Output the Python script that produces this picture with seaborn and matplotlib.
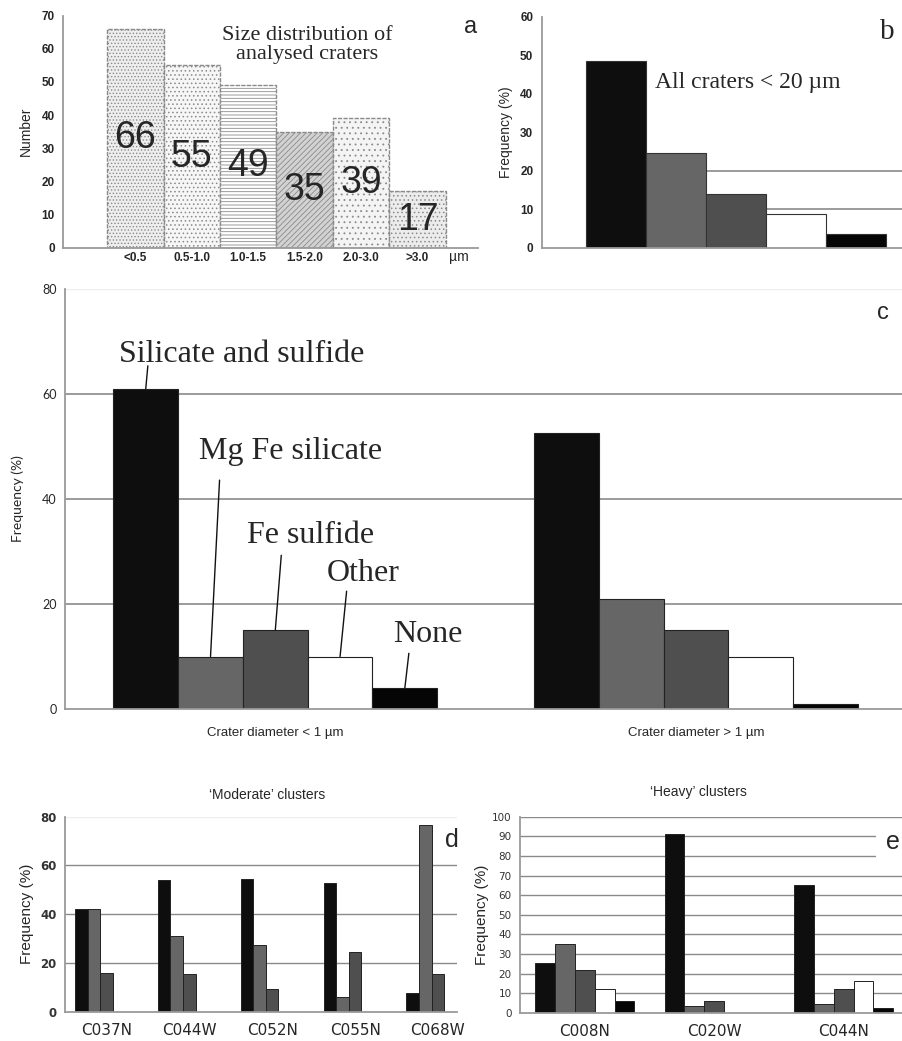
import matplotlib
matplotlib.use('Agg')
import matplotlib.pyplot as plt
import seaborn as sns
import numpy as np
import pandas as pd

# data
size_bins = ['<0.5', '0.5-1.0', '1.0-1.5', '1.5-2.0', '2.0-3.0', '>3.0']
crater_counts = [66, 55, 49, 35, 39, 17]

compositions = ['Silicate and sulfide', 'Mg Fe silicate', 'Fe sulfide', 'Other', 'None']
all_craters_freq = [48.5, 24.5, 14, 8.7, 3.6]

diameter_groups = ['Crater diameter < 1 \u00b5m', 'Crater diameter > 1 \u00b5m']
small_freq = [61, 10, 15, 10, 4]
large_freq = [52.5, 21, 15, 10, 1]

moderate_clusters = ['C037N', 'C044W', 'C052N', 'C055N', 'C068W']
c037n = [42, 42, 16, 0, 0]
c044w = [54, 31, 15.5, 0, 0]
c052n = [54.5, 27.5, 9.5, 0, 0]
c055n = [53, 6, 24.5, 0, 0]
c068w = [7.5, 76.5, 15.5, 0, 0]

heavy_clusters = ['C008N', 'C020W', 'C044N']
c008n = [25.5, 35, 22, 12, 6]
c020w = [91, 3.5, 6, 0, 0]
c044n = [65, 4.5, 12, 16, 2.5]

comp_colors = ['#0e0e0e', '#666666', '#4f4f4f', '#ffffff', '#050505']
size_faces = ['#eeeeee', '#f6f6f6', '#ffffff', '#d2d2d2', '#f4f4f4', '#ececec']
size_hatches = ['.....', '....', '-----', '//////', '...', '....']


def long_table(groups, rows):
    recs = [(g, c, v) for g, r in zip(groups, rows) for c, v in zip(compositions, r)]
    return pd.DataFrame(recs, columns=['group', 'comp', 'freq'])


sns.set_style('white')
plt.rcParams['font.family'] = ['Liberation Sans', 'DejaVu Sans']
plt.rcParams['hatch.color'] = '#b4b4b4'
plt.rcParams['hatch.linewidth'] = 0.6

W, H = 902, 1041
fig = plt.figure(figsize=(W / 100, H / 100), dpi=100)


def px_axes(l, t, r, b):
    return fig.add_axes([l / W, 1 - b / H, (r - l) / W, (b - t) / H])


def style_axes(ax):
    for s in ['top', 'right']:
        ax.spines[s].set_visible(False)
    for s in ['left', 'bottom']:
        ax.spines[s].set_color('#9a9a9a')
        ax.spines[s].set_linewidth(1.3)
    ax.tick_params(axis='y', length=4, width=1, color='#9a9a9a', pad=2)


def hlines(ax, levels, xmin=0, xmax=1, color='#8a8a8a', lw=1.2):
    for v in levels:
        ax.axhline(v, xmin=xmin, xmax=xmax, color=color, lw=lw, zorder=0)


# ---- a: size distribution
ax = px_axes(63, 15.7, 478, 247.7)
sns.barplot(x=size_bins, y=crater_counts, hue=size_bins, palette=size_faces,
            width=1, edgecolor='#8a8a8a', linewidth=1, legend=False, ax=ax)
for p, h in zip(ax.patches, size_hatches):
    p.set_hatch(h)
    p.set_linestyle((0, (3, 1)))
for i, v in enumerate(crater_counts):
    ax.text(i, v / 2, str(v), ha='center', va='center', fontsize=27)
style_axes(ax)
ax.set_xlim(-1.28, 6.07)
ax.set_ylim(0, 70)
ax.set_yticks(range(0, 71, 10))
ax.tick_params(axis='y', labelsize=8.5)
for t in ax.get_yticklabels():
    t.set_fontweight('bold')
ax.tick_params(axis='x', length=0, pad=3, labelsize=8.5)
for t in ax.get_xticklabels():
    t.set_fontweight('bold')
ax.text(5.74, -0.04, '\u00b5m', transform=ax.get_xaxis_transform(),
        ha='center', va='center', fontsize=10)
ax.set_ylabel('Number', fontsize=10)
ax.yaxis.set_label_coords(-0.072, 0.5)
ax.text(0.588, 0.874, 'Size distribution of\nanalysed craters', transform=ax.transAxes,
        ha='center', va='center', fontsize=16, family='Liberation Serif', linespacing=1.05)
ax.text(0.981, 0.951, 'a', transform=ax.transAxes, ha='center', va='center', fontsize=17)

# ---- b: all craters
ax = px_axes(541.7, 16.7, 902, 247.7)
hlines(ax, [20], xmin=0.456)
hlines(ax, [10], xmin=0.625)
sns.barplot(x=compositions, y=all_craters_freq, hue=compositions, palette=comp_colors,
            width=1, edgecolor='#333333', linewidth=0.8, legend=False, ax=ax, zorder=2)
style_axes(ax)
ax.set_xlim(-1.24, 4.77)
ax.set_ylim(0, 60)
ax.set_yticks(range(0, 61, 10))
ax.tick_params(axis='y', labelsize=8.5)
for t in ax.get_yticklabels():
    t.set_fontweight('bold')
ax.set_xticks([])
ax.set_ylabel('Frequency (%)', fontsize=10)
ax.yaxis.set_label_coords(-0.08, 0.5)
ax.text(0.573, 0.713, 'All craters < 20 \u00b5m', transform=ax.transAxes,
        ha='center', va='center', fontsize=17, family='Liberation Serif')
ax.text(0.958, 0.934, 'b', transform=ax.transAxes, ha='center', va='center',
        fontsize=21, family='Liberation Serif')

# ---- c: by crater diameter
ax = px_axes(65, 289, 902, 709)
hlines(ax, [20, 40, 60])
hlines(ax, [80], color='#eeeeee', lw=1)
df_c = long_table(diameter_groups, [small_freq, large_freq])
sns.barplot(data=df_c, x='group', y='freq', hue='comp', order=diameter_groups,
            hue_order=compositions, palette=comp_colors, width=0.77,
            edgecolor='#222222', linewidth=0.8, legend=False, errorbar=None, ax=ax, zorder=2)
style_axes(ax)
ax.set_xlim(-0.5, 1.49)
ax.set_ylim(0, 80)
ax.set_yticks(range(0, 81, 20))
ax.tick_params(axis='y', labelsize=9, length=4)
for t in ax.get_yticklabels():
    t.set_family('Lato')
ax.set_xticks([0.5], minor=True)
ax.tick_params(axis='x', which='minor', length=4, color='#9a9a9a', direction='out')
ax.tick_params(axis='x', which='major', length=0, pad=13, labelsize=9.5)
ax.set_xlabel('')
ax.set_ylabel('Frequency (%)', fontsize=10, family='Lato')
ax.yaxis.set_label_coords(-0.049, 0.5)
ax.text(0.977, 0.943, 'c', transform=ax.transAxes, ha='center', va='center', fontsize=17)

bars = sorted([p for p in ax.patches if p.get_width() > 0], key=lambda p: p.get_x())[:5]
label_pos = [(-0.081, 67.5), (0.036, 49.0), (0.083, 33.1), (0.21, 25.9), (0.362, 14.1)]
line_off = [(1.5, 16.5), (6.5, 127), (4.3, 54), (4.7, 47), (2.9, 25)]
for p, name, (tx, ty), off in zip(bars, compositions, label_pos, line_off):
    top = (p.get_x() + p.get_width() / 2, p.get_height())
    ax.annotate('', xy=top, xytext=off, textcoords='offset points',
                arrowprops=dict(arrowstyle='-', color='#111111', lw=1,
                                shrinkA=0, shrinkB=0))
    ax.text(tx, ty, name, ha='center', va='center', fontsize=23, family='Liberation Serif')

# ---- d: moderate clusters
ax = px_axes(65, 816.7, 457, 1011.7)
hlines(ax, [20, 40, 60], lw=1)
hlines(ax, [80], color='#eeeeee', lw=1)
df_d = long_table(moderate_clusters, [c037n, c044w, c052n, c055n, c068w])
sns.barplot(data=df_d, x='group', y='freq', hue='comp', order=moderate_clusters,
            hue_order=compositions, palette=comp_colors, width=0.76,
            edgecolor='#222222', linewidth=0.7, legend=False, errorbar=None, ax=ax, zorder=2)
style_axes(ax)
ax.set_xlim(-0.5, 4.23)
ax.set_ylim(0, 80)
ax.set_yticks(range(0, 81, 20))
ax.tick_params(axis='y', labelsize=8.5, labelcolor='#333333')
for t in ax.get_yticklabels():
    t.set_family('DejaVu Sans')
    t.set_fontweight('bold')
ax.set_xticks(np.arange(0.5, 4, 1), minor=True)
ax.tick_params(axis='x', which='minor', length=3, color='#9a9a9a')
ax.tick_params(axis='x', which='major', length=0, pad=8, labelsize=11)
for t in ax.get_xticklabels():
    t.set_family('DejaVu Sans')
ax.set_xlabel('')
ax.set_ylabel('Frequency (%)', fontsize=11)
ax.yaxis.set_label_coords(-0.079, 0.5)
ax.text(0.515, 1.111, '\u2018Moderate\u2019 clusters', transform=ax.transAxes,
        ha='center', va='center', fontsize=10)
ax.text(0.987, 0.88, 'd', transform=ax.transAxes, ha='center', va='center', fontsize=18)

# ---- e: heavy clusters
ax = px_axes(520, 816.7, 902, 1012.7)
hlines(ax, [10, 20, 30, 40, 50, 60, 70, 100], lw=1)
hlines(ax, [80, 90], xmax=0.929, lw=1)
df_e = long_table(heavy_clusters, [c008n, c020w, c044n])
sns.barplot(data=df_e, x='group', y='freq', hue='comp', order=heavy_clusters,
            hue_order=compositions, palette=comp_colors, width=0.766,
            edgecolor='#222222', linewidth=0.7, legend=False, errorbar=None, ax=ax, zorder=2)
style_axes(ax)
ax.set_xlim(-0.5, 2.45)
ax.set_ylim(0, 100)
ax.set_yticks(range(0, 101, 10))
ax.tick_params(axis='y', labelsize=7.5, labelcolor='#333333')
for t in ax.get_yticklabels():
    t.set_family('DejaVu Sans')
ax.set_xticks([0.5, 1.5], minor=True)
ax.tick_params(axis='x', which='minor', length=3, color='#9a9a9a')
ax.tick_params(axis='x', which='major', length=0, pad=8, labelsize=11)
for t in ax.get_xticklabels():
    t.set_family('DejaVu Sans')
ax.set_xlabel('')
ax.set_ylabel('Frequency (%)', fontsize=11)
ax.yaxis.set_label_coords(-0.081, 0.5)
ax.text(0.466, 1.126, '\u2018Heavy\u2019 clusters', transform=ax.transAxes,
        ha='center', va='center', fontsize=10)
ax.text(0.976, 0.871, 'e', transform=ax.transAxes, ha='center', va='center', fontsize=18)

fig.savefig('out.png', dpi=100)
